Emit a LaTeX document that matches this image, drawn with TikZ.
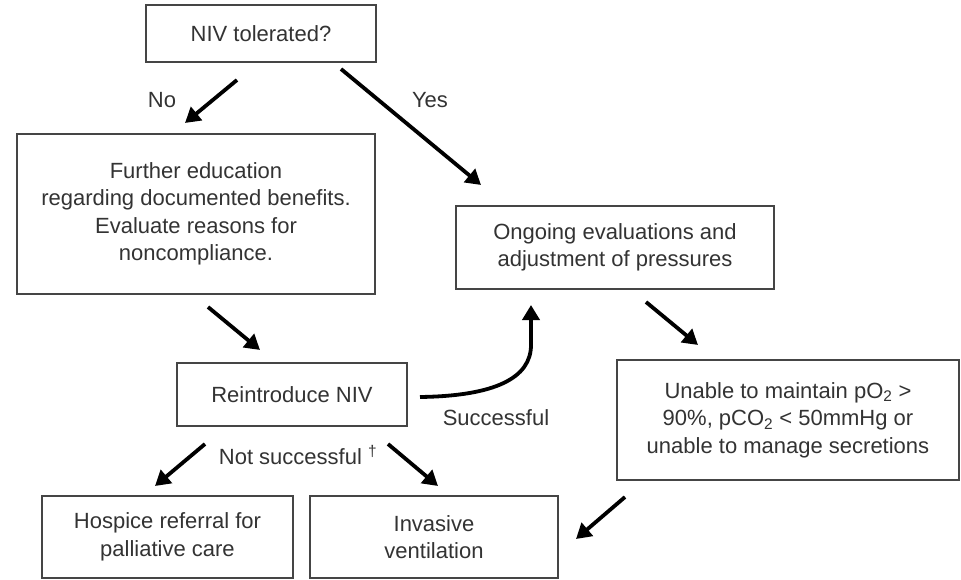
\documentclass[tikz,border=0pt]{standalone}
\usepackage{fontspec}
\setmainfont{Liberation Sans}
\usetikzlibrary{arrows.meta}
\definecolor{txt}{HTML}{333333}
\definecolor{edge}{HTML}{454545}
\tikzset{
  box/.style={draw=edge, line width=2pt, fill=white, text=txt, align=center, inner sep=0pt,
    font=\fontsize{22}{27.5}\selectfont},
  lbl/.style={text=txt, inner sep=0pt, font=\fontsize{22}{27.5}\selectfont},
  arr/.style={draw=black, line width=3.8pt, -{Triangle[length=15pt,width=17pt]}}
}
\begin{document}
\begin{tikzpicture}[x=1pt,y=-1pt]
\useasboundingbox (0,0) rectangle (961,580);
\node[box, minimum width=230pt, minimum height=57pt] (tol) at (261,33.5) {NIV tolerated?};
\node[box, minimum width=358pt, minimum height=160pt] (edu) at (196,214) {Further education\\regarding documented benefits.\\Evaluate reasons for\\noncompliance.};
\node[box, minimum width=318pt, minimum height=83pt] (ong) at (615,247.5) {Ongoing evaluations and\\adjustment of pressures};
\node[box, minimum width=342pt, minimum height=120pt] (una) at (788,420) {Unable to maintain pO\textsubscript{2} >\\90\%, pCO\textsubscript{2} < 50mmHg or\\unable to manage secretions};
\node[box, minimum width=230pt, minimum height=63pt] (rei) at (292,394.5) {Reintroduce NIV};
\node[box, minimum width=251pt, minimum height=82pt] (hos) at (167.5,537) {Hospice referral for\\palliative care};
\node[box, minimum width=248pt, minimum height=82pt] (inv) at (434,537) {Invasive\\ventilation};

\node[lbl] (no) at (162,100) {No};
\node[lbl] (yes) at (430,100) {Yes};
\node[lbl] (suc) at (496,418) {Successful};
\node[lbl] (nsuc) at (298,455) {Not successful \textsuperscript{†}};

\coordinate (noS) at (237,80);   \coordinate (noE) at (185,123);
\coordinate (yesS) at (341,69);  \coordinate (yesE) at (481,185);
\coordinate (eduS) at (208,307); \coordinate (eduE) at (260,350);
\coordinate (sucS) at (420,397); \coordinate (sucM) at (531,345); \coordinate (sucE) at (531,305);
\coordinate (ongS) at (646,302); \coordinate (ongE) at (698,345);
\coordinate (unaS) at (625,497); \coordinate (unaE) at (576,539);
\coordinate (nlS) at (205,444);  \coordinate (nlE) at (155,486);
\coordinate (nrS) at (388,444);  \coordinate (nrE) at (438,486);

\draw[arr] (noS) -- (noE);
\draw[arr] (yesS) -- (yesE);
\draw[arr] (eduS) -- (eduE);
\draw[arr] (sucS) .. controls (495,396) and (531,378) .. (sucM) -- (sucE);
\draw[arr] (ongS) -- (ongE);
\draw[arr] (unaS) -- (unaE);
\draw[arr] (nlS) -- (nlE);
\draw[arr] (nrS) -- (nrE);
\end{tikzpicture}
\end{document}
